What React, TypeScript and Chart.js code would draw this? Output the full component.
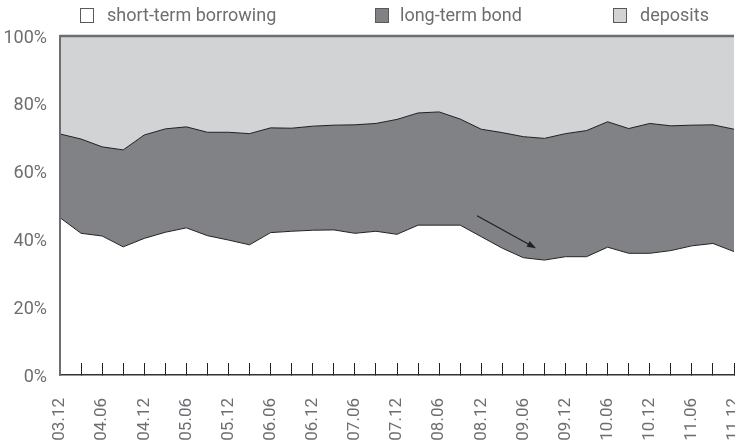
import React, { useEffect, useRef } from "react";
import { Chart, registerables } from "chart.js";

Chart.register(...registerables);

const categories = [
  "03.12", "04.03", "04.06", "04.09", "04.12", "05.03", "05.06", "05.09",
  "05.12", "06.03", "06.06", "06.09", "06.12", "07.03", "07.06", "07.09",
  "07.12", "08.03", "08.06", "08.09", "08.12", "09.03", "09.06", "09.09",
  "09.12", "10.03", "10.06", "10.09", "10.12", "11.03", "11.06", "11.09",
  "11.12",
];

const shortTermBorrowing = [
  46.4, 41.8, 41.0, 37.8, 40.3, 42.1, 43.4, 41.1, 39.8, 38.4, 42.0, 42.4,
  42.7, 42.8, 41.8, 42.4, 41.5, 44.2, 44.2, 44.2, 40.8, 37.4, 34.6, 33.9,
  34.9, 34.9, 37.7, 35.9, 35.9, 36.7, 38.1, 38.8, 36.4,
];

const longTermBond = [
  24.7, 27.8, 26.3, 28.6, 30.5, 30.5, 29.8, 30.5, 31.8, 32.8, 30.9, 30.4,
  30.7, 30.9, 32.0, 31.8, 33.9, 33.1, 33.4, 31.3, 31.7, 34.1, 35.7, 35.9,
  36.3, 37.2, 37.0, 36.8, 38.3, 36.8, 35.6, 35.0, 36.1,
];

const deposits = [
  28.9, 30.4, 32.7, 33.6, 29.2, 27.4, 26.8, 28.4, 28.4, 28.8, 27.1, 27.2,
  26.6, 26.3, 26.2, 25.8, 24.6, 22.7, 22.4, 24.5, 27.5, 28.5, 29.7, 30.2,
  28.8, 27.9, 25.3, 27.3, 25.8, 26.5, 26.3, 26.2, 27.5,
];

const seriesNames = ["short-term borrowing", "long-term bond", "deposits"];
const seriesColors = ["#ffffff", "#808285", "#d1d3d4"];

const yTicks = [0, 20, 40, 60, 80, 100];

// arrow annotation: [category index, percent]
const arrowStart = [19.8, 47.0];
const arrowEnd = [22.6, 37.4];

const TEXT = "#6d6e71";
const LINE = "#231f20";

const arrowPlugin = {
  id: "arrowAnnot",
  afterDatasetsDraw(chart: any) {
    const { ctx, scales } = chart;
    const x = scales.x;
    const y = scales.y;
    const x1 = x.getPixelForValue(arrowStart[0]);
    const y1 = y.getPixelForValue(arrowStart[1]);
    const x2 = x.getPixelForValue(arrowEnd[0]);
    const y2 = y.getPixelForValue(arrowEnd[1]);
    const ang = Math.atan2(y2 - y1, x2 - x1);
    const head = 9;
    ctx.save();
    ctx.strokeStyle = LINE;
    ctx.fillStyle = LINE;
    ctx.lineWidth = 1.2;
    ctx.beginPath();
    ctx.moveTo(x1, y1);
    ctx.lineTo(x2 - Math.cos(ang) * head * 0.7, y2 - Math.sin(ang) * head * 0.7);
    ctx.stroke();
    ctx.beginPath();
    ctx.moveTo(x2, y2);
    ctx.lineTo(
      x2 - head * Math.cos(ang) + 3.2 * Math.sin(ang),
      y2 - head * Math.sin(ang) - 3.2 * Math.cos(ang)
    );
    ctx.lineTo(
      x2 - head * Math.cos(ang) - 3.2 * Math.sin(ang),
      y2 - head * Math.sin(ang) + 3.2 * Math.cos(ang)
    );
    ctx.closePath();
    ctx.fill();
    ctx.restore();
  },
};

export default function App() {
  const ref = useRef<HTMLCanvasElement | null>(null);

  useEffect(() => {
    document.body.style.margin = "0";
    if (!ref.current) return;
    const values = [shortTermBorrowing, longTermBond, deposits];
    const chart = new Chart(ref.current, {
      type: "line",
      data: {
        labels: categories,
        datasets: values.map((v, i) => ({
          label: seriesNames[i],
          data: v,
          backgroundColor: seriesColors[i],
          borderColor: i === 2 ? "#6d6e71" : LINE,
          borderWidth: i === 2 ? 2.5 : 1,
          fill: i === 0 ? "origin" : "-1",
          pointRadius: 0,
          tension: 0,
          clip: i === 2 ? false : undefined,
        })) as any,
      },
      options: {
        animation: false,
        responsive: false,
        devicePixelRatio: 1,
        layout: { padding: { top: 36, right: 1, left: 0, bottom: 0 } },
        plugins: {
          legend: { display: false },
          tooltip: { enabled: false },
        },
        scales: {
          x: {
            type: "category",
            offset: false,
            grid: {
              display: true,
              drawOnChartArea: false,
              drawTicks: true,
              tickLength: -12,
              color: LINE,
              lineWidth: 1,
              z: 1,
            },
            border: { display: true, color: "#333333", width: 1.5, z: 1 },
            ticks: {
              autoSkip: false,
              maxRotation: 90,
              minRotation: 90,
              padding: 35,
              color: TEXT,
              font: { family: "Roboto", size: 17 },
              callback: (_v: any, idx: number) =>
                idx % 2 === 0 ? categories[idx] : "",
            },
            afterFit: (s: any) => {
              s.height = 72;
              s.paddingLeft = 0;
              s.paddingRight = 0;
            },
          },
          y: {
            stacked: true,
            min: 0,
            max: 100,
            grid: { display: false, drawTicks: false },
            border: { display: true, color: "#6d6e71", width: 2, z: 1 },
            afterBuildTicks: (s: any) => {
              s.ticks = yTicks.map((v) => ({ value: v }));
            },
            ticks: {
              padding: 13,
              labelOffset: 2,
              color: TEXT,
              font: { family: "Roboto", size: 18 },
              callback: (v: any) => v + "%",
            },
            afterFit: (s: any) => {
              s.width = 60;
              s.paddingTop = 0;
              s.paddingBottom = 0;
            },
          },
        },
      },
      plugins: [arrowPlugin],
    });
    return () => chart.destroy();
  }, []);

  const legendItems = [
    { box: 80, text: 107 },
    { box: 375, text: 400 },
    { box: 613, text: 640 },
  ];

  return (
    <div style={{ position: "fixed", left: 0, top: 0, width: 735, height: 447, background: "#fff" }}>
      <canvas ref={ref} width={735} height={447} style={{ position: "absolute", left: 0, top: 0, width: 735, height: 447 }} />
      {legendItems.map((it, i) => (
        <React.Fragment key={i}>
          <div
            style={{
              position: "absolute",
              left: it.box,
              top: 8,
              width: 12,
              height: 13,
              background: seriesColors[i],
              border: "1px solid #58595b",
            }}
          />
          <div
            style={{
              position: "absolute",
              left: it.text,
              top: 3,
              fontFamily: "Roboto",
              fontSize: 18,
              lineHeight: "24px",
              color: TEXT,
              whiteSpace: "nowrap",
            }}
          >
            {seriesNames[i]}
          </div>
        </React.Fragment>
      ))}
    </div>
  );
}
